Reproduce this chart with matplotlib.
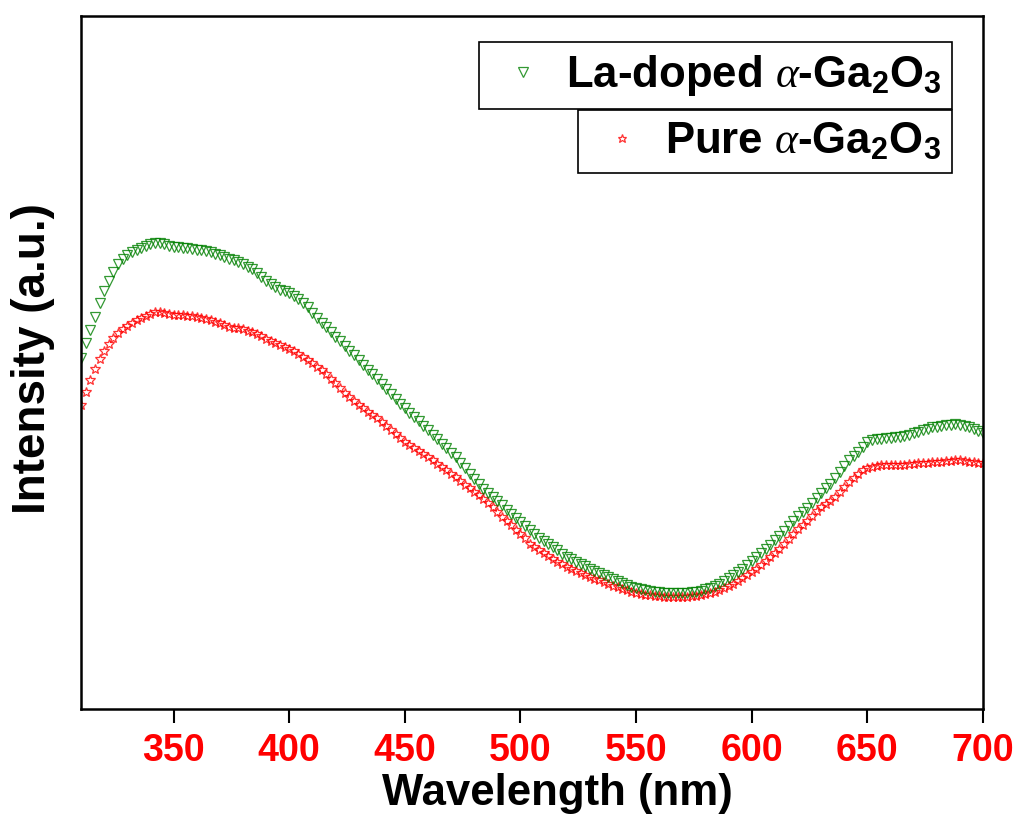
import numpy as np
import matplotlib
matplotlib.use("Agg")
from matplotlib import pyplot as plt

plt.rcParams['font.family'] = ['Liberation Sans', 'DejaVu Sans']
plt.rcParams['mathtext.fontset'] = 'custom'
plt.rcParams['mathtext.rm'] = 'Liberation Sans:bold'
plt.rcParams['mathtext.it'] = 'Liberation Serif:italic'

# wavelength grid (nm), every 2 nm from 310 to 700
wavelength = np.arange(310, 701, 2)

# La-doped alpha-Ga2O3 (a.u.)
la_doped = [351, 366, 379, 392, 406, 418, 428, 437, 445, 450,
            454, 457, 459, 461, 463, 465, 466, 466, 465, 463,
            462, 462, 461, 461, 460, 459, 459, 458, 457, 455,
            454, 452, 450, 449, 447, 445, 442, 440, 436, 432,
            428, 425, 422, 419, 418, 416, 413, 410, 406, 402,
            396, 391, 386, 382, 377, 372, 368, 363, 358, 354,
            349, 344, 339, 335, 330, 325, 320, 315, 310, 305,
            301, 296, 292, 288, 283, 279, 274, 270, 265, 261,
            256, 252, 246, 241, 235, 230, 225, 220, 216, 212,
            208, 204, 199, 195, 191, 187, 183, 179, 175, 171,
            168, 165, 162, 159, 155, 152, 150, 147, 145, 143,
            140, 138, 136, 134, 132, 130, 128, 126, 124, 122,
            121, 120, 119, 118, 117, 117, 116, 116, 116, 116,
            116, 116, 117, 117, 118, 120, 121, 123, 125, 128,
            131, 134, 137, 140, 144, 148, 152, 156, 160, 164,
            169, 173, 178, 183, 188, 193, 197, 201, 206, 211,
            216, 221, 225, 231, 237, 243, 249, 253, 257, 262,
            267, 269, 270, 270, 271, 271, 272, 272, 273, 274,
            276, 277, 279, 280, 282, 282, 283, 284, 284, 285,
            284, 283, 282, 280, 278, 276]

# pure alpha-Ga2O3
pure = [304, 317, 329, 340, 350, 358, 365, 371, 376, 380,
        383, 386, 389, 391, 393, 395, 397, 397, 396, 395,
        394, 394, 394, 393, 393, 392, 391, 390, 389, 387,
        386, 384, 382, 381, 381, 380, 378, 377, 375, 373,
        370, 368, 366, 364, 362, 360, 358, 355, 352, 349,
        346, 342, 339, 335, 330, 326, 321, 316, 312, 308,
        304, 301, 297, 294, 291, 287, 283, 279, 275, 271,
        267, 264, 261, 258, 255, 252, 249, 245, 242, 239,
        235, 232, 228, 224, 221, 217, 214, 210, 206, 202,
        197, 192, 188, 184, 179, 175, 171, 165, 162, 159,
        156, 153, 150, 147, 145, 142, 140, 138, 136, 134,
        132, 130, 129, 127, 125, 123, 122, 120, 119, 117,
        116, 115, 114, 114, 113, 113, 112, 112, 112, 112,
        112, 112, 113, 113, 114, 115, 116, 117, 119, 121,
        123, 125, 128, 131, 134, 137, 140, 144, 148, 152,
        156, 160, 165, 170, 175, 180, 184, 188, 193, 198,
        202, 205, 208, 212, 217, 222, 227, 231, 235, 239,
        241, 242, 243, 244, 244, 244, 244, 244, 244, 245,
        245, 246, 246, 246, 247, 247, 247, 248, 248, 249,
        249, 248, 247, 247, 246, 246]

labels = ['La-doped $\\alpha$-Ga$_2$O$_3$', 'Pure $\\alpha$-Ga$_2$O$_3$']

fig = plt.figure(figsize=(10.19, 8.16), dpi=100)
ax = fig.add_axes([0.0795, 0.1311, 0.8852, 0.8493])

p_pure, = ax.plot(wavelength, pure, linestyle='none', marker='*', markersize=7,
                  fillstyle='none', markeredgewidth=0.9, color='#ff0000', alpha=0.8)
p_la, = ax.plot(wavelength, la_doped, linestyle='none', marker='v', markersize=7.5,
                fillstyle='none', markeredgewidth=0.9, color='#008000', alpha=0.8)

ax.set_xlim(310, 700)
ax.set_ylim(0, 693)
ax.set_xticks([350, 400, 450, 500, 550, 600, 650, 700])
ax.set_yticks([])
ax.tick_params(axis='x', direction='out', length=10, width=1.5, pad=7,
               labelsize=27, labelcolor='#ff0000')
for lab in ax.get_xticklabels():
    lab.set_fontweight('bold')
for s in ax.spines.values():
    s.set_linewidth(1.8)

ax.set_xlabel('Wavelength (nm)', fontsize=31.5, fontweight='bold')
ax.xaxis.label.set_va('baseline')
ax.xaxis.set_label_coords(0.528, -0.1385)
ax.set_ylabel('Intensity (a.u.)', fontsize=33, fontweight='bold')
ax.yaxis.set_label_coords(-0.029, 0.506)

leg_kw = dict(loc='upper right', borderaxespad=0, fancybox=False, framealpha=1,
              edgecolor='black', prop={'size': 31.5, 'weight': 'bold'},
              handletextpad=0.23, borderpad=0.25, handlelength=1.5, markerscale=0.9)
leg1 = ax.legend([p_la], [labels[0]], bbox_to_anchor=(0.9656, 0.9625), **leg_kw)
leg1.get_frame().set_linewidth(1.2)
ax.add_artist(leg1)
leg2 = ax.legend([p_pure], [labels[1]], bbox_to_anchor=(0.9656, 0.864), **leg_kw)
leg2.get_frame().set_linewidth(1.2)

plt.savefig('out.png', dpi=100)
